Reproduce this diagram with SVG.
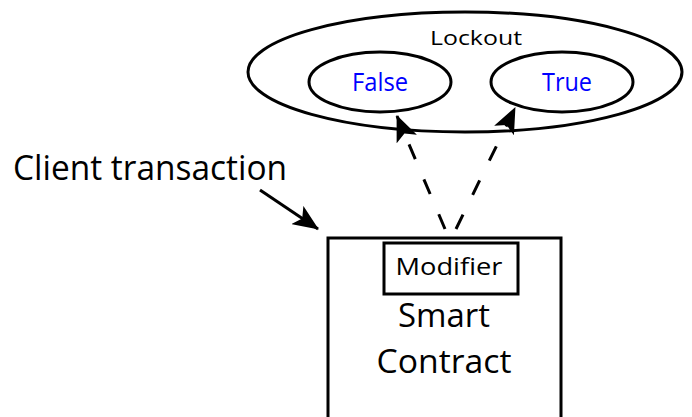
<svg xmlns="http://www.w3.org/2000/svg" width="692" height="417" viewBox="0 0 692 417">
  <style>
    .shape { fill: none; stroke: #000; stroke-width: 3; }
    .lbl { font-family: "Open Sans", "Noto Sans", sans-serif; fill: #000; text-anchor: middle; }
    .state { font-family: "Open Sans", "Noto Sans", sans-serif; fill: #0000ff; text-anchor: middle; font-size: 26px; }
    .dash { stroke: #000; stroke-width: 3; fill: none; stroke-dasharray: 16 22; }
    .solid { stroke: #000; stroke-width: 3; fill: none; }
  </style>
  <defs>
    <marker id="head" viewBox="0 0 26 22" refX="25" refY="11" markerWidth="26" markerHeight="22" markerUnits="userSpaceOnUse" orient="auto">
      <path d="M0,0 L26,11 L0,22 L6,11 Z" fill="#000"/>
    </marker>
  </defs>

  <rect width="692" height="417" fill="#fff"/>

  <g id="lockout">
    <ellipse class="shape" cx="465" cy="72" rx="217" ry="60"/>
    <text class="lbl" x="476" y="45" font-size="20" textLength="92" lengthAdjust="spacingAndGlyphs">Lockout</text>
  </g>

  <g id="false-state">
    <ellipse class="shape" cx="380" cy="82" rx="71" ry="30"/>
    <text class="state" x="380" y="91" textLength="56" lengthAdjust="spacingAndGlyphs">False</text>
  </g>

  <g id="true-state">
    <ellipse class="shape" cx="562" cy="82" rx="71" ry="30"/>
    <text class="state" x="567" y="91" textLength="50" lengthAdjust="spacingAndGlyphs">True</text>
  </g>

  <g id="client">
    <text class="lbl" x="150" y="180" font-size="34" textLength="274" lengthAdjust="spacingAndGlyphs">Client transaction</text>
  </g>

  <g id="smart-contract">
    <rect class="shape" x="328" y="238" width="233" height="190"/>
    <text class="lbl" x="444" y="327" font-size="33" textLength="92" lengthAdjust="spacingAndGlyphs">Smart</text>
    <text class="lbl" x="444" y="373" font-size="33" textLength="135" lengthAdjust="spacingAndGlyphs">Contract</text>
  </g>

  <g id="modifier">
    <rect class="shape" x="384" y="243" width="134" height="51"/>
    <text class="lbl" x="449" y="275" font-size="23" fill="#222" textLength="107" lengthAdjust="spacingAndGlyphs">Modifier</text>
  </g>

  <g id="connectors">
    <path class="solid" d="M260,190 L318,229" marker-end="url(#head)"/>
    <path class="dash" d="M445,229 L397,116" marker-end="url(#head)"/>
    <path class="dash" d="M456,229 L515,108" marker-end="url(#head)"/>
  </g>
</svg>
